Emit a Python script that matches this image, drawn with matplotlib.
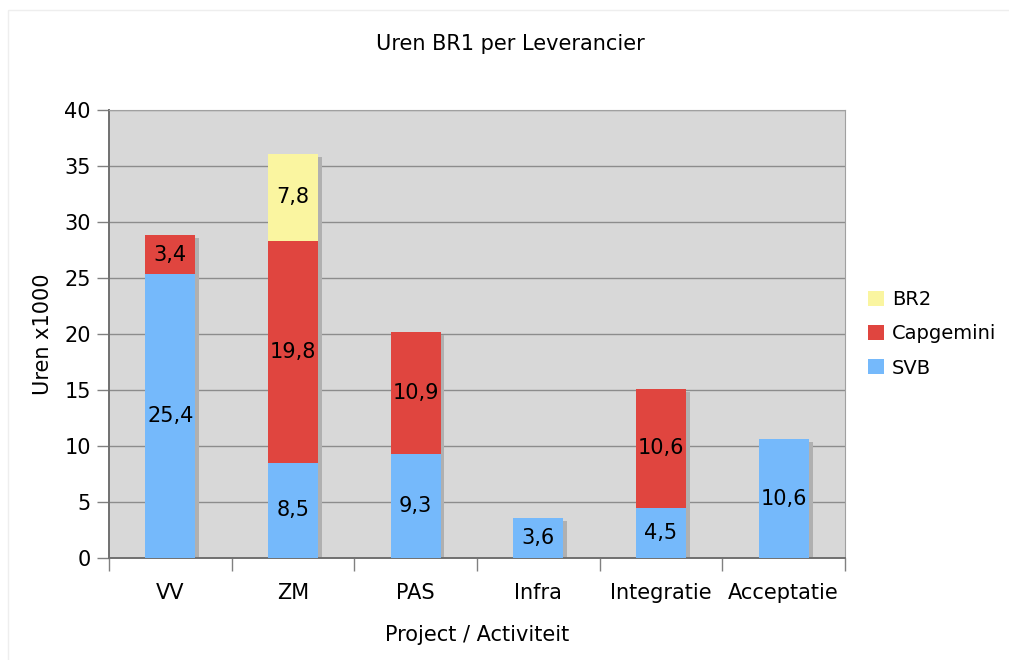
import numpy as np
import matplotlib
matplotlib.use('Agg')
import matplotlib.pyplot as plt
from matplotlib.patches import Patch, Rectangle

# Data
categories = ['VV', 'ZM', 'PAS', 'Infra', 'Integratie', 'Acceptatie']
svb = [25.4, 8.5, 9.3, 3.6, 4.5, 10.6]
capgemini = [3.4, 19.8, 10.9, 0, 10.6, 0]
br2 = [0, 7.8, 0, 0, 0, 0]

series_names = ['SVB', 'Capgemini', 'BR2']
series_colors = ['#75b9fb', '#e0453f', '#faf5a0']

plt.rcParams['font.family'] = ['DejaVu Sans']
FS = 15

fig = plt.figure(figsize=(10.09, 6.6), dpi=100)
ax = fig.add_axes([0.108, 0.1545, 0.7295, 0.6788])
ax.set_facecolor('#d8d8d8')

# faint outer frame
fig.patches.append(Rectangle((0.008, -0.01), 1.0, 0.995, transform=fig.transFigure,
                             fill=False, edgecolor='#eeeeee', lw=1))

x = np.arange(len(categories))
width = 0.41
totals = np.array(svb) + np.array(capgemini) + np.array(br2)

# shadows
ax.bar(x + 0.03, totals, width, bottom=-0.25, color='#b0b0b0', zorder=2)

bottom = np.zeros(len(categories))
for name, vals, col in zip(series_names, [svb, capgemini, br2], series_colors):
    vals = np.array(vals)
    ax.bar(x, vals, width, bottom=bottom, color=col, zorder=3)
    for xi, v, b in zip(x, vals, bottom):
        if v > 0:
            ax.text(xi, b + v / 2, f'{v:.1f}'.replace('.', ','), ha='center',
                    va='center', fontsize=FS, color='black', zorder=4)
    bottom += vals

ax.set_xlim(-0.5, len(categories) - 0.5)
ax.set_ylim(0, 40)
ax.set_yticks(range(0, 41, 5))
ax.yaxis.grid(True, color='#8c8c8c', lw=1, zorder=1)
ax.set_axisbelow(True)

ax.set_xticks(x)
ax.set_xticklabels(categories, fontsize=FS)
ax.tick_params(axis='x', length=0, pad=18)
ax.set_xticks(np.arange(len(categories) + 1) - 0.5, minor=True)
ax.tick_params(axis='x', which='minor', length=9, color='#808080', width=1)
ax.tick_params(axis='y', length=9, color='#808080', width=1, labelsize=FS, pad=4)

for side in ['top', 'right']:
    ax.spines[side].set_color('#a0a0a0')
for side in ['left', 'bottom']:
    ax.spines[side].set_color('#707070')
    ax.spines[side].set_linewidth(1.4)

ax.set_ylabel('Uren x1000', fontsize=FS, labelpad=8)
ax.set_xlabel('Project / Activiteit', fontsize=FS, labelpad=16)

fig.text(0.506, 0.933, 'Uren BR1 per Leverancier', ha='center', va='center', fontsize=FS)

handles = [Patch(facecolor=c, edgecolor='none') for c in reversed(series_colors)]
fig.legend(handles, list(reversed(series_names)), loc='center left',
           bbox_to_anchor=(0.853, 0.494), borderaxespad=0, frameon=False,
           fontsize=14, handlelength=0.8, handleheight=0.8, handletextpad=0.4,
           labelspacing=0.78)

plt.savefig('out.png', dpi=100)
